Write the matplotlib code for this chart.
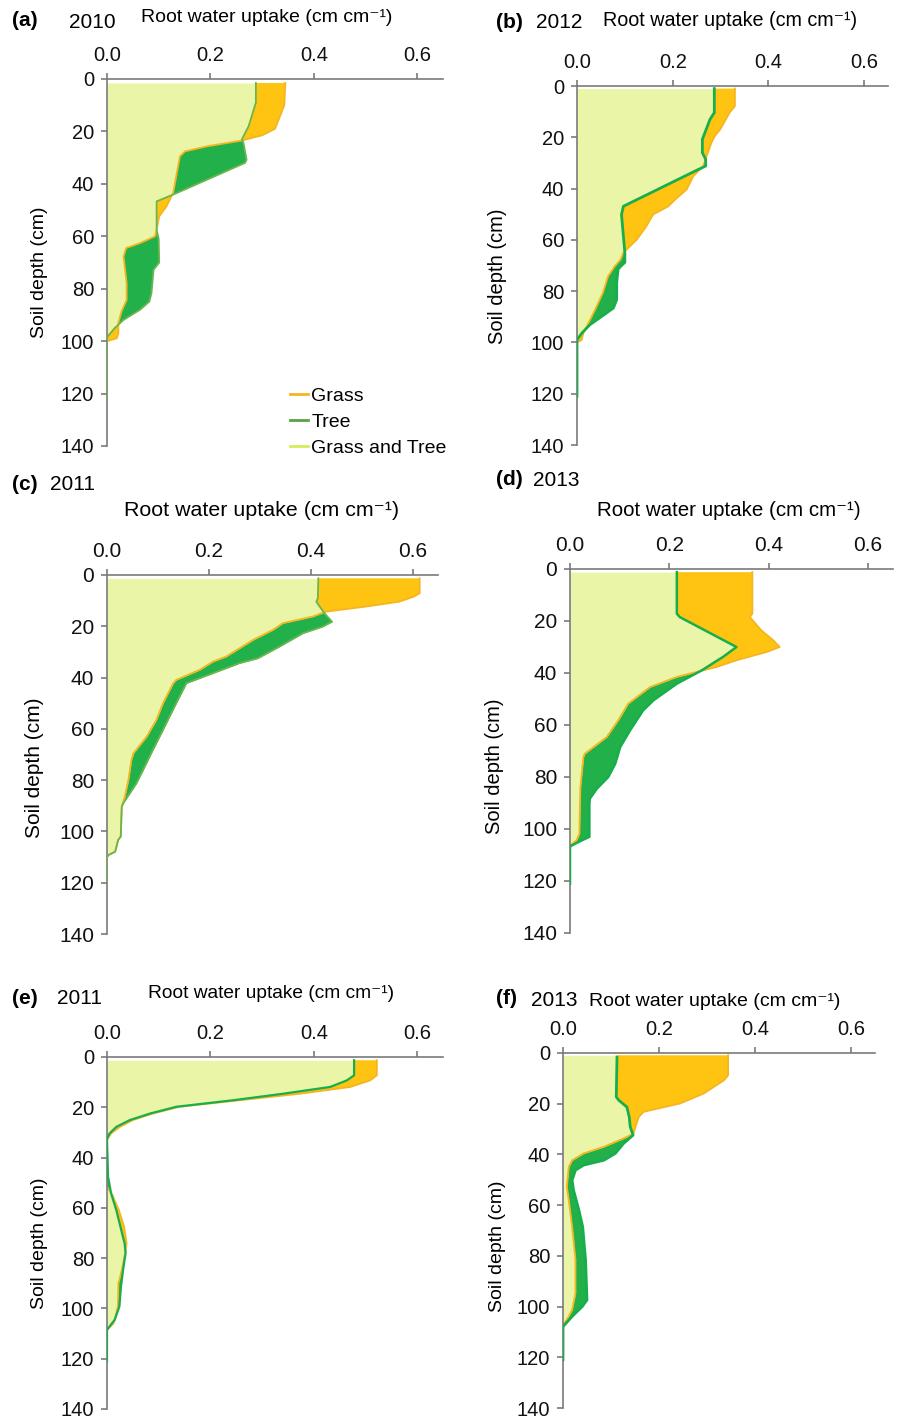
import numpy as np
import matplotlib
matplotlib.use("Agg")
import matplotlib.pyplot as plt
from matplotlib.lines import Line2D

plt.rcParams['font.family'] = ['Liberation Sans', 'DejaVu Sans']

# ---------------- data (depth in cm, uptake in cm cm-1) ----------------
# (a) 2010
a_grass_depth = [1.5, 10, 19, 21.5, 23.5, 25.7, 27.6, 29.5, 43.5, 48.6, 52.4, 57.5, 60, 62.6, 64.5, 67.7, 77.9, 84.3, 88.7, 93, 97, 98.9, 100, 121]
a_grass = [0.345, 0.343, 0.325, 0.30, 0.26, 0.193, 0.151, 0.141, 0.128, 0.115, 0.101, 0.096, 0.093, 0.064, 0.037, 0.032, 0.038, 0.038, 0.028, 0.022, 0.022, 0.019, 0.0, 0.0]
a_tree_depth = [1.5, 9, 18, 23, 24.4, 30.8, 32, 43.5, 46.7, 57.5, 61, 70, 72.8, 81.7, 84.9, 88, 91.9, 95, 98.3, 99.5, 121]
a_tree = [0.288, 0.288, 0.274, 0.261, 0.264, 0.270, 0.267, 0.135, 0.096, 0.096, 0.100, 0.101, 0.090, 0.086, 0.082, 0.064, 0.032, 0.015, 0.001, 0.0, 0.0]

# (b) 2012
b_grass_depth = [1, 7.8, 10.4, 17, 19.5, 22.1, 27.3, 31.2, 35.2, 40.4, 44.3, 46.9, 50.1, 54.7, 59.9, 65, 67.7, 70.3, 74.2, 80.7, 87.2, 92.4, 96.4, 99, 100, 121]
b_grass = [0.330, 0.330, 0.319, 0.299, 0.288, 0.281, 0.271, 0.264, 0.243, 0.229, 0.205, 0.191, 0.159, 0.145, 0.125, 0.097, 0.091, 0.079, 0.065, 0.054, 0.038, 0.024, 0.013, 0.010, 0.0, 0.0]
b_tree_depth = [1, 10.4, 13, 20.8, 26, 28.6, 31.2, 32.6, 46.9, 50.1, 65, 68.8, 70, 71.4, 76.6, 83.3, 86.6, 89.8, 93.1, 96.4, 99, 121]
b_tree = [0.287, 0.287, 0.278, 0.262, 0.262, 0.269, 0.269, 0.253, 0.097, 0.093, 0.100, 0.100, 0.093, 0.086, 0.083, 0.083, 0.076, 0.052, 0.027, 0.010, 0.0, 0.0]

# (c) 2011
c_grass_depth = [1.3, 7.1, 8.4, 10.4, 12.3, 14.3, 16.2, 18.8, 21.4, 25.3, 31.8, 33.8, 37, 40.9, 42.2, 50, 56.5, 63, 69.5, 72.1, 80, 86.4, 90.3, 102, 103.3, 107.9, 109.2, 110, 120.3]
c_grass = [0.614, 0.614, 0.603, 0.574, 0.509, 0.430, 0.404, 0.345, 0.326, 0.287, 0.234, 0.208, 0.182, 0.136, 0.130, 0.110, 0.097, 0.078, 0.052, 0.048, 0.042, 0.035, 0.029, 0.027, 0.022, 0.016, 0.003, 0.0, 0.0]
c_tree_depth = [1.3, 9.1, 10.4, 14.9, 18.2, 20.1, 22.7, 27.9, 32.5, 34.4, 38.3, 42.2, 50, 60.4, 69.5, 76, 81.2, 85.1, 89, 90.3, 102, 103.3, 107.9, 109.2, 110, 120.3]
c_tree = [0.415, 0.414, 0.411, 0.427, 0.442, 0.424, 0.385, 0.339, 0.296, 0.260, 0.208, 0.156, 0.136, 0.110, 0.087, 0.071, 0.058, 0.045, 0.032, 0.029, 0.027, 0.022, 0.016, 0.003, 0.0, 0.0]

# (d) 2013
d_grass_depth = [1.2, 17.2, 18.5, 23.6, 27.4, 30, 31.9, 35.1, 37.7, 39.6, 41.5, 45.4, 51.8, 58.2, 64.6, 71, 72.3, 83.8, 90.3, 101.8, 104.4, 106.3, 121]
d_grass = [0.367, 0.367, 0.362, 0.385, 0.409, 0.422, 0.396, 0.335, 0.295, 0.255, 0.215, 0.161, 0.117, 0.097, 0.074, 0.030, 0.027, 0.021, 0.020, 0.019, 0.013, 0.0, 0.0]
d_tree_depth = [1.2, 17.2, 18.5, 30, 33.8, 39, 44.1, 50.5, 54.4, 62, 68.5, 74.9, 80, 84.5, 88.3, 90.3, 103, 105, 106.7, 121]
d_tree = [0.215, 0.215, 0.221, 0.335, 0.308, 0.265, 0.215, 0.168, 0.147, 0.121, 0.101, 0.091, 0.077, 0.054, 0.040, 0.039, 0.039, 0.017, 0.0, 0.0]

# (e) 2011
e_grass_depth = [1.3, 7.3, 9.3, 11.9, 14.6, 17.2, 19.8, 22.5, 25.1, 27.8, 30.4, 32.4, 33, 51.6, 54.3, 60.9, 67.5, 74.1, 78, 83.4, 88.7, 90, 99.2, 105.9, 108.5, 121]
e_grass = [0.522, 0.522, 0.509, 0.471, 0.374, 0.257, 0.141, 0.089, 0.050, 0.025, 0.008, 0.002, 0.0, 0.0, 0.009, 0.023, 0.033, 0.038, 0.035, 0.030, 0.024, 0.022, 0.021, 0.013, 0.0, 0.0]
e_tree_depth = [1.3, 7.3, 9.3, 11.9, 14.6, 17.2, 19.8, 22.5, 25.1, 27.8, 30.4, 32.4, 47.6, 54.3, 60.9, 67.5, 74.1, 78, 83.4, 91.3, 99.2, 104.5, 108.5, 121]
e_tree = [0.478, 0.478, 0.464, 0.432, 0.341, 0.244, 0.134, 0.083, 0.044, 0.018, 0.005, 0.0, 0.002, 0.008, 0.018, 0.026, 0.034, 0.036, 0.032, 0.027, 0.024, 0.015, 0.0, 0.0]

# (f) 2013
f_grass_depth = [0.9, 8.8, 10.8, 16, 19.9, 23.2, 25.2, 29.1, 31.8, 33.7, 37, 39.6, 42.3, 44.9, 52.7, 58, 68.5, 81.6, 94.7, 101.3, 105.2, 107.2, 121]
f_grass = [0.344, 0.344, 0.335, 0.293, 0.244, 0.168, 0.158, 0.151, 0.147, 0.126, 0.085, 0.043, 0.019, 0.012, 0.008, 0.012, 0.019, 0.026, 0.026, 0.019, 0.008, 0.0, 0.0]
f_tree_depth = [1.6, 17.3, 18.6, 21.3, 25.2, 29.1, 32.4, 35.7, 39.6, 42.3, 44.2, 46.2, 50.1, 54.1, 61.9, 68.5, 81.6, 97.4, 100, 103.9, 107.9, 121]
f_tree = [0.1125, 0.111, 0.116, 0.133, 0.138, 0.140, 0.146, 0.126, 0.109, 0.085, 0.043, 0.026, 0.019, 0.022, 0.033, 0.041, 0.047, 0.050, 0.040, 0.019, 0.0, 0.0]

panel_letters = ['(a)', '(b)', '(c)', '(d)', '(e)', '(f)']
panel_years = ['2010', '2012', '2011', '2013', '2011', '2013']
x_label = 'Root water uptake (cm cm\u207b\u00b9)'
y_label = 'Soil depth (cm)'
x_ticks = [0.0, 0.2, 0.4, 0.6]
x_ticklabels = ['0.0', '0.2', '0.4', '0.6']
y_ticks = [0, 20, 40, 60, 80, 100, 120, 140]
legend_labels = ['Grass', 'Tree', 'Grass and Tree']

panels = [
    (a_grass_depth, a_grass, a_tree_depth, a_tree),
    (b_grass_depth, b_grass, b_tree_depth, b_tree),
    (c_grass_depth, c_grass, c_tree_depth, c_tree),
    (d_grass_depth, d_grass, d_tree_depth, d_tree),
    (e_grass_depth, e_grass, e_tree_depth, e_tree),
    (f_grass_depth, f_grass, f_tree_depth, f_tree),
]

# ---------------- styling / layout ----------------
W, H = 898, 1418
DPI = 100
C_LIGHT = '#EAF5A8'
C_ORANGE = '#FFC412'
C_DKGREEN = '#22B04A'
C_GRASS_LINE = '#F5B521'
C_TREE_LINE_A = '#6AB54E'
C_TREE_LINE_B = '#18AE4C'
C_SPINE = '#7a7a7a'

# axes boxes in pixels: left, right(x=0.65), top(y=0), bottom(y=140)
boxes = [
    (107, 443, 79, 446),
    (577, 888, 86, 445),
    (107, 438, 575, 934),
    (570, 893, 569, 933),
    (107, 443, 1057, 1409),
    (563, 875, 1053, 1408),
]
tree_line_colors = [C_TREE_LINE_A, C_TREE_LINE_B, C_TREE_LINE_A, C_TREE_LINE_B, C_TREE_LINE_B, C_TREE_LINE_B]
tree_line_widths = [1.3, 2.0, 1.3, 1.8, 1.6, 2.0]

# text positions (pixels): letter (x_left, y), year (x_left, y), title (x_center, y), ylabel (x_center, y_center)
letter_pos = [(12, 20), (496, 23), (12, 485), (496, 480), (12, 998), (496, 998)]
year_pos = [(69, 23), (536, 23), (50, 485), (533, 481), (57, 999), (531, 1001)]
title_pos = [(267, 18), (730, 20), (262, 510), (729, 511), (271, 993), (715, 1001)]
title_size = [14.0, 14.2, 15.4, 14.8, 13.8, 14.0]
ylabel_pos = [(40, 272), (497, 276), (34, 768), (494, 766), (40, 1243), (497, 1246)]
ylabel_size = [14.0, 14.5, 15.0, 14.5, 14.0, 14.0]
tick_size = [14.5, 14.5, 15.0, 15.0, 14.5, 14.5]

fig = plt.figure(figsize=(W / DPI, H / DPI), dpi=DPI)


def fx(px):
    return px / W


def fy(py):
    return 1 - py / H


for i, (gd, gv, td, tv) in enumerate(panels):
    l, r, t, b = boxes[i]
    ax = fig.add_axes([fx(l), fy(b), fx(r) - fx(l), fy(t) - fy(b)])
    gd = np.asarray(gd, float); gv = np.asarray(gv, float)
    td = np.asarray(td, float); tv = np.asarray(tv, float)
    d = np.union1d(gd, td)
    g = np.interp(d, gd, gv)
    tr = np.interp(d, td, tv)
    ax.fill_betweenx(d, 0, np.minimum(g, tr), color=C_LIGHT, lw=0, zorder=1)
    ax.fill_betweenx(d, tr, g, where=g >= tr, interpolate=True, color=C_ORANGE, lw=0, zorder=1)
    ax.fill_betweenx(d, g, tr, where=tr >= g, interpolate=True, color=C_DKGREEN, lw=0, zorder=1)
    ax.plot(gv, gd, color=C_GRASS_LINE, lw=1.3, zorder=2)
    ax.plot(tv, td, color=tree_line_colors[i], lw=tree_line_widths[i], zorder=3)

    ax.set_xlim(0, 0.65)
    ax.set_ylim(140, 0)
    ax.xaxis.tick_top()
    ax.set_xticks(x_ticks)
    ax.set_xticklabels(x_ticklabels)
    ax.set_yticks(y_ticks)
    for s in ['right', 'bottom']:
        ax.spines[s].set_visible(False)
    for s in ['left', 'top']:
        ax.spines[s].set_color(C_SPINE)
        ax.spines[s].set_linewidth(1.2)
    ax.tick_params(axis='both', colors=C_SPINE, labelcolor='#111111', labelsize=tick_size[i],
                   length=4.3, width=1.2, direction='out')
    ax.tick_params(axis='x', pad=5.5)
    ax.tick_params(axis='y', pad=5)
    ax.patch.set_alpha(0)

    lx, ly = letter_pos[i]
    fig.text(fx(lx), fy(ly), panel_letters[i], fontsize=15, fontweight='bold', ha='left', va='center')
    yx, yy = year_pos[i]
    fig.text(fx(yx), fy(yy), panel_years[i], fontsize=15, ha='left', va='center')
    tx, ty = title_pos[i]
    fig.text(fx(tx), fy(ty), x_label, fontsize=title_size[i], ha='center', va='center')
    ylx, yly = ylabel_pos[i]
    fig.text(fx(ylx), fy(yly), y_label, fontsize=ylabel_size[i], rotation=90, ha='center', va='center')

    if i == 0:
        handles = [Line2D([], [], color=C_GRASS_LINE, lw=2),
                   Line2D([], [], color='#5BA145', lw=2),
                   Line2D([], [], color='#D5EC5A', lw=2)]
        ax.legend(handles, legend_labels, loc='center left',
                  bbox_to_anchor=((290 - l) / (r - l), (b - 422) / (b - t)),
                  frameon=False, fontsize=14, handlelength=0.95, handletextpad=0.15,
                  labelspacing=0.42, borderpad=0, borderaxespad=0)

fig.savefig('out.png', dpi=DPI)
